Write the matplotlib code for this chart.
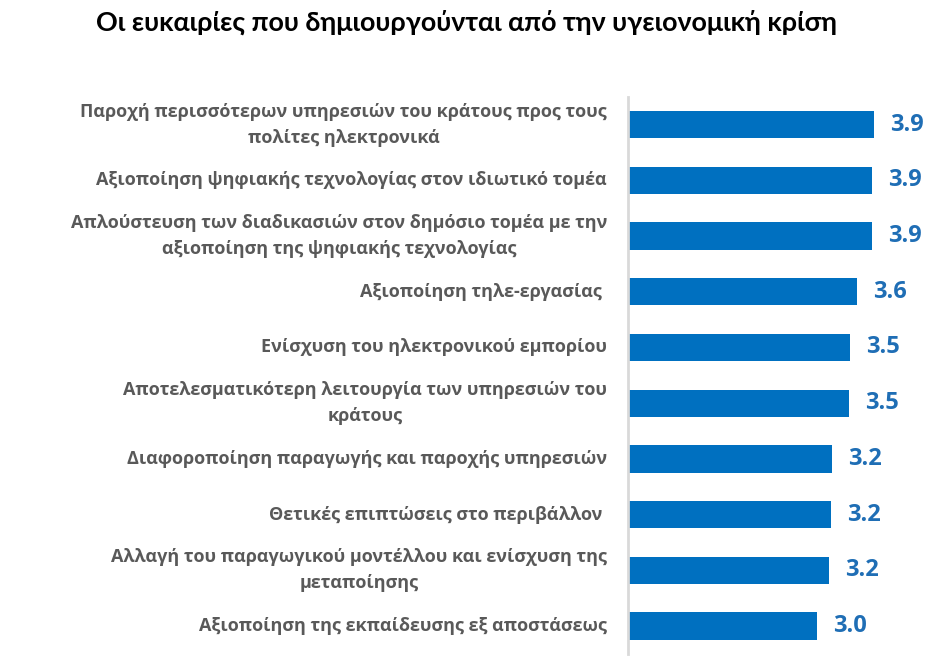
import matplotlib
matplotlib.use("Agg")
import matplotlib.pyplot as plt

categories = [
    "Παροχή περισσότερων υπηρεσιών του κράτους προς τους\nπολίτες ηλεκτρονικά",
    "Αξιοποίηση ψηφιακής τεχνολογίας στον ιδιωτικό τομέα",
    "Απλούστευση των διαδικασιών στον δημόσιο τομέα με την\nαξιοποίηση της ψηφιακής τεχνολογίας",
    "Αξιοποίηση τηλε-εργασίας ",
    "Ενίσχυση του ηλεκτρονικού εμπορίου",
    "Αποτελεσματικότερη λειτουργία των υπηρεσιών του\nκράτους",
    "Διαφοροποίηση παραγωγής και παροχής υπηρεσιών",
    "Θετικές επιπτώσεις στο περιβάλλον ",
    "Αλλαγή του παραγωγικού μοντέλλου και ενίσχυση της\nμεταποίησης",
    "Αξιοποίηση της εκπαίδευσης εξ αποστάσεως",
]
values = [3.90, 3.87, 3.87, 3.64, 3.52, 3.51, 3.24, 3.22, 3.19, 3.00]
value_labels = ["3.9", "3.9", "3.9", "3.6", "3.5", "3.5", "3.2", "3.2", "3.2", "3.0"]
title = "Οι ευκαιρίες που δημιουργούνται από την υγειονομική κρίση"

plt.rcParams['font.family'] = ['Open Sans', 'DejaVu Sans']

fig = plt.figure(figsize=(9.51, 6.69), dpi=100)
ax = fig.add_axes([628/951, 1-654/669, 300/951, 557.3/669])

ypos = list(range(len(categories)))
ax.barh(ypos, values, height=0.49, color='#0070C0')
ax.set_ylim(len(categories)-0.5, -0.5)
ax.set_xlim(0, 300/63)

for y, v, lab in zip(ypos, values, value_labels):
    ax.text(v + 16/63, y, lab, va='center', ha='left', color='#1F6EB5',
            fontsize=17, fontweight='bold')

for y, c in zip(ypos, categories):
    ax.text(-21/63, y, c, va='center', ha='right', multialignment='center',
            color='#595959', fontsize=13, fontweight='bold', linespacing=1.58)

for s in ['top', 'right', 'bottom']:
    ax.spines[s].set_visible(False)
ax.spines['left'].set_color('#D9D9D9')
ax.spines['left'].set_linewidth(2)
ax.set_xticks([])
ax.set_yticks([])

fig.text(466/951, 1-22/669, title, ha='center', va='center', fontsize=19.4,
         fontweight='bold', color='black', family=['Lato', 'DejaVu Sans'])

fig.savefig('out.png', dpi=100)
